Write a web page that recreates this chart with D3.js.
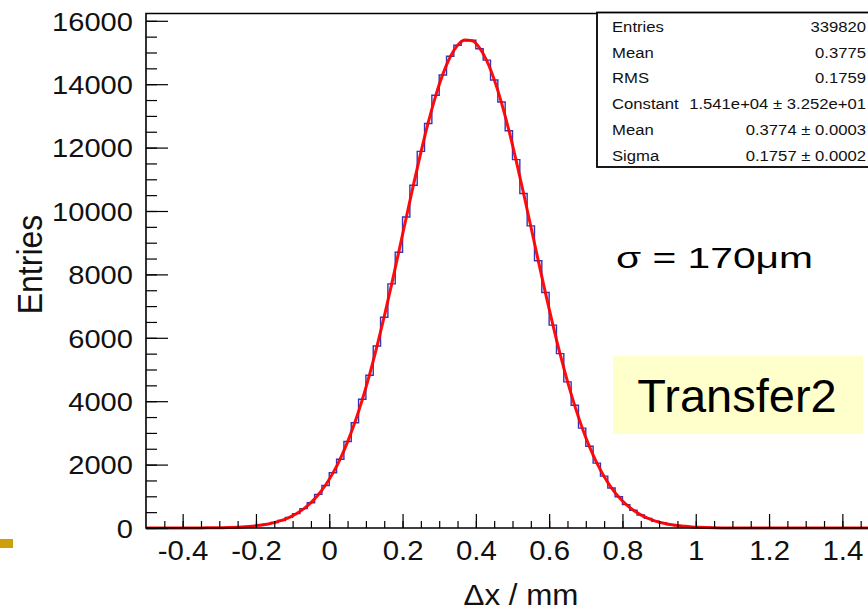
<!DOCTYPE html>
<html>
<head>
<meta charset="utf-8">
<script src="https://cdn.jsdelivr.net/npm/d3@7/dist/d3.min.js"></script>
<style>
  html, body { margin: 0; padding: 0; background: #ffffff; overflow: hidden; }
  svg { display: block; font-family: "Liberation Sans", Arial, Helvetica, sans-serif; }
</style>
</head>
<body>
<svg id="chart" width="868" height="613"></svg>
<script>
// ---------- data ----------
const binStart = -0.5;
const binWidth = 0.02;
const counts = [
  0, 0, 0, 1, 0, 1, 2, 3, 4, 8,
  11, 18, 25, 41, 57, 86, 118, 174, 235, 334,
  452, 610, 795, 1060, 1340, 1745, 2170, 2730, 3320, 4060,
  4820, 5740, 6650, 7700, 8700, 9810, 10810, 11880, 12760, 13650,
  14290, 14880, 15230, 15370, 15390, 15120, 14760, 14130, 13440, 12530,
  11620, 10550, 9530, 8430, 7430, 6400, 5500, 4610, 3870, 3150,
  2580, 2045, 1635, 1260, 985, 738, 562, 410, 305, 215,
  158, 108, 77, 50, 36, 23, 16, 10, 7, 4,
  3, 2, 1, 0, 1, 0, 0, 0, 0, 0,
  0, 0, 0, 0, 0, 0, 0, 0, 0, 0
];
const fitX = [-0.5, -0.4, -0.35, -0.31, -0.29, -0.27, -0.25, -0.23, -0.21, -0.19,
  -0.17, -0.15, -0.13, -0.11, -0.09, -0.07, -0.05, -0.03, -0.01, 0.01,
  0.03, 0.05, 0.07, 0.09, 0.11, 0.13, 0.15, 0.17, 0.19, 0.21,
  0.23, 0.25, 0.27, 0.29, 0.31, 0.33, 0.35, 0.37, 0.39, 0.41,
  0.43, 0.45, 0.47, 0.49, 0.51, 0.53, 0.55, 0.57, 0.59, 0.61,
  0.63, 0.65, 0.67, 0.69, 0.71, 0.73, 0.75, 0.77, 0.79, 0.81,
  0.83, 0.85, 0.87, 0.89, 0.91, 0.93, 0.95, 0.97, 0.99, 1.01,
  1.05, 1.1, 1.2, 1.5];
const fitY = [0, 1, 3, 7, 11, 17, 26, 39, 58, 84,
  120, 170, 238, 329, 448, 602, 800, 1048, 1356, 1731,
  2182, 2716, 3335, 4043, 4840, 5718, 6669, 7678, 8725, 9788,
  10839, 11848, 12784, 13617, 14317, 14859, 15224, 15396, 15370, 15147,
  14735, 14149, 13412, 12549, 11591, 10568, 9512, 8450, 7411, 6416,
  5483, 4625, 3851, 3166, 2568, 2057, 1626, 1269, 978, 744,
  558, 414, 302, 219, 156, 110, 76, 52, 35, 24,
  10, 3, 0, 0];
const xTicks = [-0.4, -0.2, 0, 0.2, 0.4, 0.6, 0.8, 1, 1.2, 1.4];
const yTicks = [0, 2000, 4000, 6000, 8000, 10000, 12000, 14000, 16000];
const statLabels = ["Entries", "Mean", "RMS", "Constant", "Mean", "Sigma"];
const statValues = ["339820", "0.3775", "0.1759", "1.541e+04 \u00b1 3.252e+01", "0.3774 \u00b1 0.0003", "0.1757 \u00b1 0.0002"];
const xTitle = "\u0394x / mm";
const yTitle = "Entries";
const sigmaNote = "\u03c3 = 170\u03bcm";
const boxNote = "Transfer2";

// ---------- layout ----------
const svg = d3.select("#chart");
const L = 146, R = 879, T = 13.5, B = 528;
const x = d3.scaleLinear().domain([-0.5, 1.5]).range([L, R]);
const y = d3.scaleLinear().domain([0, 16230]).range([B, T]);

svg.append("defs").append("clipPath").attr("id", "plotclip")
  .append("rect").attr("x", L).attr("y", T).attr("width", R - L).attr("height", B - T + 2);

const plot = svg.append("g").attr("clip-path", "url(#plotclip)");

// histogram (step)
const stepPts = counts.map((c, i) => [binStart + i * binWidth, c]);
stepPts.push([binStart + counts.length * binWidth, counts[counts.length - 1]]);
plot.append("path")
  .attr("d", d3.line().x(d => x(d[0])).y(d => y(d[1])).curve(d3.curveStepAfter)(stepPts))
  .attr("fill", "none").attr("stroke", "#3535b8").attr("stroke-width", 1.4);

// fit curve
const fitPts = fitX.map((v, i) => [v, fitY[i]]);
plot.append("path")
  .attr("d", d3.line().x(d => x(d[0])).y(d => y(d[1])).curve(d3.curveMonotoneX)(fitPts))
  .attr("fill", "none").attr("stroke", "#ff0000").attr("stroke-width", 3)
  .attr("stroke-linejoin", "round").attr("stroke-opacity", 0.95);

// ---------- axes ----------
const fmt = d => String(d);
// x minor
svg.append("g").attr("transform", `translate(0,${B})`)
  .call(d3.axisBottom(x).tickValues(d3.range(-9, 30).map(k => k * 0.05)).tickSize(-7).tickFormat(""))
  .call(g => g.select(".domain").remove())
  .call(g => g.selectAll("line").attr("stroke", "#000").attr("stroke-width", 1.2));
// x major
svg.append("g").attr("transform", `translate(0,${B})`)
  .call(d3.axisBottom(x).tickValues(xTicks).tickSize(-14).tickPadding(12).tickFormat(fmt))
  .call(g => g.select(".domain").remove())
  .call(g => g.selectAll("line").attr("stroke", "#000").attr("stroke-width", 1.2))
  .call(g => g.selectAll("text").attr("fill", "#111").attr("font-size", 28)
      .attr("font-family", '"Liberation Sans", Arial, sans-serif')
      .attr("y", 0).attr("transform", "translate(0,12) scale(1.05,1)"));

// y minor
svg.append("g").attr("transform", `translate(${L},0)`)
  .call(d3.axisLeft(y).tickValues(d3.range(0, 33).map(k => k * 500)).tickSize(-11).tickFormat(""))
  .call(g => g.select(".domain").remove())
  .call(g => g.selectAll("line").attr("stroke", "#000").attr("stroke-width", 1.2));
// y major
svg.append("g").attr("transform", `translate(${L},0)`)
  .call(d3.axisLeft(y).tickValues(yTicks).tickSize(-22).tickPadding(13).tickFormat(fmt))
  .call(g => g.select(".domain").remove())
  .call(g => g.selectAll("line").attr("stroke", "#000").attr("stroke-width", 1.2))
  .call(g => g.selectAll("text").attr("fill", "#111").attr("font-size", 26)
      .attr("font-family", '"Liberation Sans", Arial, sans-serif')
      .attr("x", 0).attr("dy", "0.36em").attr("transform", "translate(-13,0) scale(1.12,1)"));

// frame (left, top, bottom)
svg.append("path")
  .attr("d", `M${R + 10},${T}H${L}V${B}H${R + 10}`)
  .attr("fill", "none").attr("stroke", "#000").attr("stroke-width", 1.6);

// axis titles
svg.append("text").text(yTitle)
  .attr("transform", "translate(42,264.5) scale(1.08,1) rotate(-90)")
  .attr("text-anchor", "middle").attr("font-size", 32).attr("fill", "#111");
svg.append("text").text(xTitle)
  .attr("transform", "translate(521,605) scale(1.08,1)")
  .attr("text-anchor", "middle").attr("font-size", 29).attr("fill", "#111");

// ---------- stats box ----------
const sb = svg.append("g");
sb.append("rect").attr("x", 597).attr("y", 12.5).attr("width", 300).attr("height", 154.5)
  .attr("fill", "#fff").attr("stroke", "#000").attr("stroke-width", 1.8);
const rowY = d3.scaleLinear().domain([0, 5]).range([26.7, 155.5]);
statLabels.forEach((lab, i) => {
  sb.append("text").text(lab)
    .attr("transform", `translate(612,${rowY(i)}) scale(1.15,1)`)
    .attr("dy", "0.36em").attr("font-size", 14.5).attr("fill", "#111");
  sb.append("text").text(statValues[i])
    .attr("transform", `translate(866,${rowY(i)}) scale(1.15,1)`)
    .attr("dy", "0.36em").attr("text-anchor", "end").attr("font-size", 14.5).attr("fill", "#111");
});

// ---------- annotations ----------
svg.append("text").text(sigmaNote)
  .attr("x", 616).attr("y", 267.5)
  .attr("font-size", 30).attr("fill", "#000")
  .attr("textLength", 197).attr("lengthAdjust", "spacingAndGlyphs");

svg.append("rect").attr("x", 613).attr("y", 356).attr("width", 250).attr("height", 78)
  .attr("fill", "#ffffcc");
svg.append("text").text(boxNote)
  .attr("x", 737).attr("y", 411.5).attr("text-anchor", "middle")
  .attr("font-size", 47).attr("fill", "#000");

// gold bullet bar at lower left
svg.append("rect").attr("x", 0).attr("y", 539).attr("width", 13).attr("height", 9)
  .attr("fill", "#cf9f0a");
</script>
</body>
</html>
